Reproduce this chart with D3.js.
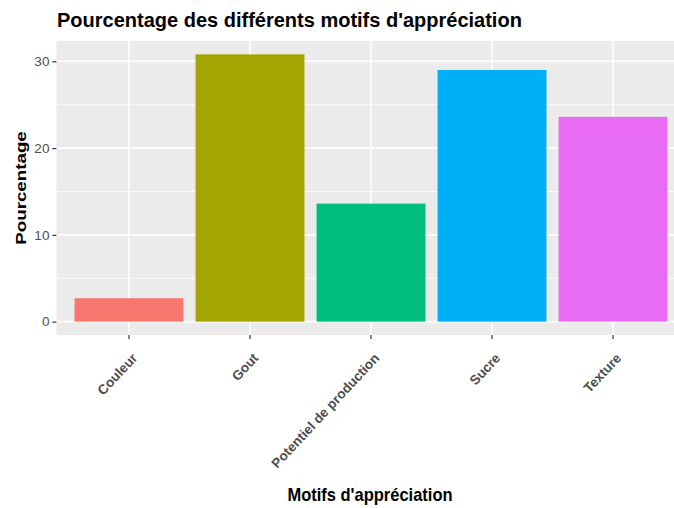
<!DOCTYPE html>
<html>
<head>
<meta charset="utf-8">
<script src="https://cdn.jsdelivr.net/npm/d3@7"></script>
<style>
  html, body { margin: 0; padding: 0; background: #fff; }
  svg { display: block; font-family: "Liberation Sans", Arial, sans-serif; }
</style>
</head>
<body>
<div id="chart"></div>
<script>
// data
const categories = ['Couleur', 'Gout', 'Potentiel de production', 'Sucre', 'Texture'];
const values = [2.7, 30.8, 13.6, 29.0, 23.6];
const colors = ['#F8766D', '#A3A500', '#00BF7D', '#00B0F6', '#E76BF3'];
const majorTicks = [0, 10, 20, 30];
const minorTicks = [5, 15, 25];

const W = 674, H = 508;
const panel = { left: 56.4, right: 685.6, top: 41, bottom: 335 };

const svg = d3.select('#chart').append('svg')
  .attr('width', W)
  .attr('height', H);

// scales (ggplot-like expansion)
const x = d3.scaleBand()
  .domain(categories)
  .range([panel.left, panel.right])
  .paddingInner(0.1)
  .paddingOuter(0.15);

const y = d3.scaleLinear()
  .domain([-1.54, 32.34])
  .range([panel.bottom, panel.top]);

// panel background
svg.append('rect')
  .attr('x', panel.left)
  .attr('y', panel.top)
  .attr('width', panel.right - panel.left)
  .attr('height', panel.bottom - panel.top)
  .attr('fill', '#EBEBEB');

// grid
svg.append('g').selectAll('line')
  .data(minorTicks)
  .join('line')
  .attr('x1', panel.left).attr('x2', panel.right)
  .attr('y1', d => y(d)).attr('y2', d => y(d))
  .attr('stroke', '#fff').attr('stroke-width', 0.8);

svg.append('g').selectAll('line')
  .data(majorTicks)
  .join('line')
  .attr('x1', panel.left).attr('x2', panel.right)
  .attr('y1', d => y(d)).attr('y2', d => y(d))
  .attr('stroke', '#fff').attr('stroke-width', 1.6);

svg.append('g').selectAll('line')
  .data(categories)
  .join('line')
  .attr('x1', d => x(d) + x.bandwidth() / 2).attr('x2', d => x(d) + x.bandwidth() / 2)
  .attr('y1', panel.top).attr('y2', panel.bottom)
  .attr('stroke', '#fff').attr('stroke-width', 1.6);

// bars
svg.append('g').selectAll('rect')
  .data(categories)
  .join('rect')
  .attr('x', d => x(d))
  .attr('width', x.bandwidth())
  .attr('y', (d, i) => y(values[i]))
  .attr('height', (d, i) => y(0) - y(values[i]))
  .attr('fill', (d, i) => colors[i]);

// y axis
const yAxis = svg.append('g')
  .attr('transform', `translate(${panel.left},0)`)
  .call(d3.axisLeft(y).tickValues(majorTicks).tickSize(4).tickPadding(3));
yAxis.select('.domain').remove();
yAxis.selectAll('line').attr('stroke', '#333').attr('stroke-width', 1.2);
yAxis.selectAll('.tick text')
  .attr('fill', '#4D4D4D')
  .attr('font-size', '13.5px')
  .attr('font-family', '"Liberation Sans", Arial, sans-serif');

// x axis
const xAxis = svg.append('g')
  .attr('transform', `translate(0,${panel.bottom})`)
  .call(d3.axisBottom(x).tickSize(4).tickPadding(4));
xAxis.select('.domain').remove();
xAxis.selectAll('line').attr('stroke', '#333').attr('stroke-width', 1.2);
xAxis.selectAll('.tick text')
  .attr('fill', '#4D4D4D')
  .attr('font-size', '13.5px')
  .attr('font-weight', 'bold')
  .attr('font-family', '"Liberation Sans", Arial, sans-serif')
  .attr('text-anchor', 'end')
  .attr('dy', '0.72em')
  .attr('y', 0)
  .attr('x', 0)
  .attr('transform', 'translate(2,17) rotate(-47)');

// titles
svg.append('text')
  .attr('x', 57)
  .attr('y', 27)
  .attr('font-size', '20px')
  .attr('font-weight', 'bold')
  .attr('fill', '#000')
  .text('Pourcentage des différents motifs d\'appréciation');

svg.append('text')
  .attr('transform', 'translate(26,188) rotate(-90) scale(1.25,1)')
  .attr('text-anchor', 'middle')
  .attr('font-size', '15px')
  .attr('font-weight', 'bold')
  .attr('fill', '#000')
  .text('Pourcentage');

svg.append('text')
  .attr('text-anchor', 'middle')
  .attr('font-size', '16.5px')
  .attr('font-weight', 'bold')
  .attr('fill', '#000')
  .attr('transform', 'translate(370,501) scale(1,1.15)')
  .text('Motifs d\'appréciation');
</script>
</body>
</html>
